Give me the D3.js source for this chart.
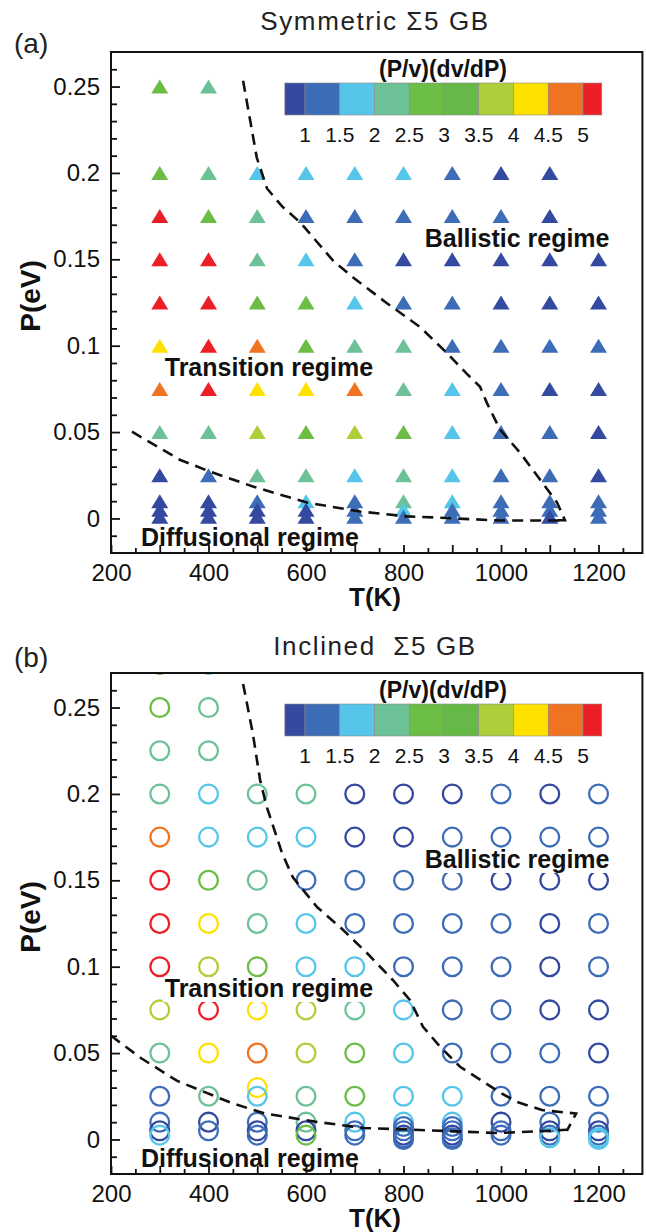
<!DOCTYPE html>
<html><head><meta charset="utf-8">
<script src="https://cdn.jsdelivr.net/npm/d3@7"></script>
<style>body{margin:0;background:#fff}svg{display:block}</style>
</head><body><svg id="c" width="646" height="1232"></svg>
<script>
// ---------------- data ----------------
const temps = [300,400,500,600,700,800,900,1000,1100,1200];

// Panel (a) symmetric GB: rows of (P/v)(dv/dP) values, one per temperature (null = no point)
const symPressures = [0.25,0.2,0.175,0.15,0.125,0.1,0.075,0.05,0.025,0.01,0.005,0.001];
const symValues = [
  [2.8,2.3,null,null,null,null,null,null,null,null],
  [2.8,2.3,1.8,1.8,1.8,1.8,1.3,0.9,0.9,null],
  [5.2,2.8,2.3,1.3,1.3,1.3,1.3,1.3,0.9,null],
  [5.2,5.2,2.3,1.8,1.3,0.9,0.9,0.9,0.9,0.9],
  [5.2,5.2,2.8,2.8,1.8,1.3,1.3,0.9,0.9,0.9],
  [4.3,5.2,4.8,2.8,2.3,2.3,1.3,1.3,1.3,1.3],
  [4.8,5.2,4.3,4.3,4.8,2.3,1.8,1.3,0.9,0.9],
  [2.3,2.3,3.8,2.8,3.8,2.8,1.8,1.3,1.3,0.9],
  [0.9,1.3,2.3,2.3,1.8,2.3,1.8,1.3,1.3,0.9],
  [0.9,0.9,1.3,1.8,1.3,2.3,1.8,1.3,1.3,1.3],
  [0.9,0.9,0.9,0.9,1.3,1.8,1.3,1.3,1.3,1.3],
  [0.9,0.9,0.9,0.9,1.3,1.3,1.3,1.3,0.9,1.3]
];

// Panel (b) inclined GB
const incPressures = [0.275,0.25,0.225,0.2,0.175,0.15,0.125,0.1,0.075,0.05,0.03,0.025,0.01,0.0075,0.005,0.0025,0.001,0];
const incValues = [
  [2.8,1.8,null,null,null,null,null,null,null,null],
  [2.8,2.3,null,null,null,null,null,null,null,null],
  [2.3,2.3,null,null,null,null,null,null,null,null],
  [2.3,1.8,2.3,2.3,0.9,0.9,0.9,1.3,0.9,1.3],
  [4.8,1.8,1.8,1.8,0.9,0.9,1.3,1.3,1.3,1.3],
  [5.2,2.8,2.3,1.3,1.3,1.3,1.3,0.9,0.9,0.9],
  [5.2,4.3,2.3,1.8,1.3,1.3,1.3,1.3,0.9,1.3],
  [5.2,3.8,2.8,1.8,1.8,1.3,1.3,1.3,0.9,1.3],
  [3.8,5.2,4.3,3.8,2.3,1.8,1.3,1.3,0.9,0.9],
  [2.3,4.3,4.8,3.8,2.8,1.8,1.3,1.3,1.3,0.9],
  [null,null,4.3,null,null,null,null,null,null,null],
  [1.3,2.3,1.8,2.3,2.8,1.8,1.8,1.3,1.3,1.3],
  [1.3,0.9,1.3,2.3,1.8,1.8,1.8,0.9,1.3,1.3],
  [null,null,null,null,null,1.3,1.3,null,null,null],
  [0.9,1.3,0.9,0.9,1.3,1.3,1.3,1.3,0.9,0.9],
  [1.8,null,1.3,2.8,1.3,0.9,0.9,1.3,1.3,1.3],
  [null,null,null,null,null,1.3,1.3,null,1.8,1.8],
  [null,null,null,null,null,1.3,1.3,null,null,1.8]
];

// Regime boundaries [T, P]
const symUpper = [[471,0.2533],[499,0.2089],[520,0.191],[551,0.1806],[588,0.1714],[655,0.1494],[696,0.1396],[766,0.1246],[834,0.1108],[889,0.0958],[930,0.0837],[957,0.0762],[971,0.0669],[998,0.0514],[1039,0.0381],[1080,0.0225],[1115,0.0092],[1131,-0.001],[1105,-0.001]];
const symLower = [[243,0.0502],[341,0.034],[403,0.0271],[491,0.0185],[602,0.0092],[711,0.004],[807,0.0012],[860,0.0006],[998,-0.0012],[1131,-0.0012]];
const incUpper = [[471,0.2637],[491,0.2348],[506,0.2077],[520,0.1921],[551,0.1656],[573,0.1517],[623,0.1344],[670,0.1229],[725,0.1079],[778,0.0923],[813,0.0808],[840,0.0652],[875,0.0537],[916,0.0421],[957,0.0346],[998,0.0271],[1035,0.0215],[1084,0.017],[1154,0.015],[1135,0.005]];
const incLower = [[200,0.06],[262,0.047],[335,0.034],[448,0.021],[516,0.015],[618,0.0103],[719,0.0066],[821,0.0056],[905,0.0047],[992,0.0037],[1076,0.0047],[1135,0.0056]];

// Colour bar
const cbEdges = [1,1.5,2,2.5,3,3.5,4,4.5,5];
const cbColors = ["#3449a0","#3e6db8","#55c6ea","#6cc296","#6bbd45","#66b946","#afcf3a","#ffe100","#f07322","#ec1f26"];
const cbTicks = [1,1.5,2,2.5,3,3.5,4,4.5,5];
const cbRange = [0.71,5.27];

const xTicksMajor = [200,400,600,800,1000,1200];
const yTicksMajor = [0,0.05,0.1,0.15,0.2,0.25];

// ---------------- drawing ----------------
const svg = d3.select("#c");
const FONT = "'Liberation Sans', Arial, Helvetica, sans-serif";
const color = d3.scaleThreshold().domain(cbEdges).range(cbColors);
const x = d3.scaleLinear().domain([200,1290]).range([111,642.4]);

function panel(cfg) {
  const y = d3.scaleLinear().domain([-0.02,0.27]).range([cfg.bottom, cfg.top]);
  const g = svg.append("g");
  const L = x.range()[0], R = x.range()[1];

  // title and tag
  g.append("text").attr("x",375).attr("y",cfg.titleY).attr("text-anchor","middle")
    .attr("font-family",FONT).attr("font-size",26).attr("letter-spacing",1.6).attr("fill","#222")
    .style("white-space","pre").text(cfg.title);
  g.append("text").attr("x",14).attr("y",cfg.tagY)
    .attr("font-family",FONT).attr("font-size",28).attr("fill","#222").text(cfg.tag);

  // clip
  const cid = "clip"+cfg.tag.replace(/\W/g,"");
  g.append("clipPath").attr("id",cid).append("rect")
    .attr("x",L).attr("y",cfg.top).attr("width",R-L).attr("height",cfg.bottom-cfg.top);
  const plot = g.append("g").attr("clip-path",`url(#${cid})`);

  // markers
  const pts = [];
  cfg.pressures.forEach((p,i)=>cfg.values[i].forEach((v,j)=>{ if(v!=null) pts.push({T:temps[j],P:p,v}); }));
  if (cfg.marker==="tri") {
    const w=17,h=14;
    plot.selectAll("path.m").data(pts).join("path").attr("class","m")
      .attr("d",`M0,${-h/2}L${w/2},${h/2}L${-w/2},${h/2}Z`)
      .attr("transform",d=>`translate(${x(d.T)},${y(d.P)})`)
      .attr("fill",d=>color(d.v));
  } else {
    plot.selectAll("circle.m").data(pts).join("circle").attr("class","m")
      .attr("cx",d=>x(d.T)).attr("cy",d=>y(d.P)).attr("r",9.4)
      .attr("fill","none").attr("stroke-width",2.3).attr("stroke",d=>color(d.v));
  }

  // regime labels with white background
  const labels = [
    {t:"Ballistic regime",T:1033,dy:186},
    {t:"Transition regime",T:524,dy:315},
    {t:"Diffusional regime",T:485,dy:485}
  ];
  labels.forEach(l=>{
    const tg = g.append("g");
    const txt = tg.append("text").attr("x",x(l.T)).attr("y",cfg.top+l.dy+9)
      .attr("text-anchor","middle").attr("font-family",FONT).attr("font-weight","bold")
      .attr("font-size",25).attr("fill","#111").text(l.t);
    const bb = txt.node().getBBox();
    tg.insert("rect","text").attr("x",bb.x-2).attr("y",bb.y+3).attr("width",bb.width+4).attr("height",bb.height-3).attr("fill","#fff");
  });

  // boundaries
  const line = d3.line().x(d=>x(d[0])).y(d=>y(d[1]));
  [cfg.upper,cfg.lower].forEach(b=>{
    g.append("path").attr("d",line(b)).attr("fill","none").attr("stroke","#111")
      .attr("stroke-width",2.6).attr("stroke-dasharray","11,7");
  });

  // axes
  const xMinor = d3.range(250,1290,50).filter(t=>t%100!==0);
  const xMid = d3.range(300,1290,100).filter(t=>t%200!==0);
  const ax = g.append("g").attr("transform",`translate(0,${cfg.bottom})`);
  ax.call(d3.axisBottom(x).tickValues(xTicksMajor).tickSize(-8).tickPadding(11).tickFormat(d3.format("d")));
  ax.append("g").call(d3.axisBottom(x).tickValues(xMid).tickSize(-8).tickFormat(""));
  ax.append("g").call(d3.axisBottom(x).tickValues(xMinor).tickSize(-5).tickFormat(""));
  const ay = g.append("g").attr("transform",`translate(${L},0)`);
  ay.call(d3.axisLeft(y).tickValues(yTicksMajor).tickSize(-9).tickPadding(11).tickFormat(d=>String(+d.toFixed(2))));
  const yMinor = d3.range(-1,27).map(k=>k/100).filter(v=>Math.round(v*100)%5!==0);
  ay.append("g").call(d3.axisLeft(y).tickValues(yMinor).tickSize(-6).tickFormat(""));
  g.selectAll(".domain").remove();
  g.selectAll(".tick line").attr("stroke","#111").attr("stroke-width",1.8);
  g.selectAll(".tick text").attr("font-family",FONT).attr("font-size",24).attr("fill","#111");

  // frame
  g.append("rect").attr("x",L).attr("y",cfg.top).attr("width",R-L).attr("height",cfg.bottom-cfg.top)
    .attr("fill","none").attr("stroke","#111").attr("stroke-width",2);

  // axis titles
  g.append("text").attr("x",375).attr("y",cfg.bottom+53).attr("text-anchor","middle")
    .attr("font-family",FONT).attr("font-weight","bold").attr("font-size",26).attr("fill","#111").text("T(K)");
  g.append("text").attr("transform",`translate(40,${cfg.top+244}) rotate(-90)`).attr("text-anchor","middle")
    .attr("font-family",FONT).attr("font-weight","bold").attr("font-size",28).attr("fill","#111").text("P(eV)");

  // colour bar
  const cb = d3.scaleLinear().domain([1,5]).range([305,583]);
  const cbTop = cfg.top+31, cbH = 32;
  const edges = [cbRange[0],...cbEdges,cbRange[1]];
  const cg = g.append("g");
  cg.selectAll("rect").data(d3.range(edges.length-1)).join("rect")
    .attr("x",i=>cb(edges[i])).attr("y",cbTop).attr("width",i=>cb(edges[i+1])-cb(edges[i])).attr("height",cbH)
    .attr("fill",i=>cbColors[i]).attr("stroke","#8a8a8a").attr("stroke-width",0.6);
  cg.append("text").attr("x",443).attr("y",cbTop-6).attr("text-anchor","middle")
    .attr("font-family",FONT).attr("font-weight","bold").attr("font-size",23).attr("fill","#111").text("(P/v)(dv/dP)");
  cg.selectAll("text.cbt").data(cbTicks).join("text").attr("class","cbt")
    .attr("x",d=>cb(d)).attr("y",cbTop+cbH+27).attr("text-anchor","middle")
    .attr("font-family",FONT).attr("font-size",21).attr("fill","#111").text(d=>String(d));
}

panel({top:52,bottom:553,title:"Symmetric \u03A35 GB",titleY:30,tag:"(a)",tagY:53,
  pressures:symPressures,values:symValues,marker:"tri",upper:symUpper,lower:symLower});
panel({top:673,bottom:1174,title:"Inclined  \u03A35 GB",titleY:655,tag:"(b)",tagY:667,
  pressures:incPressures,values:incValues,marker:"circle",upper:incUpper,lower:incLower});
</script></body></html>
